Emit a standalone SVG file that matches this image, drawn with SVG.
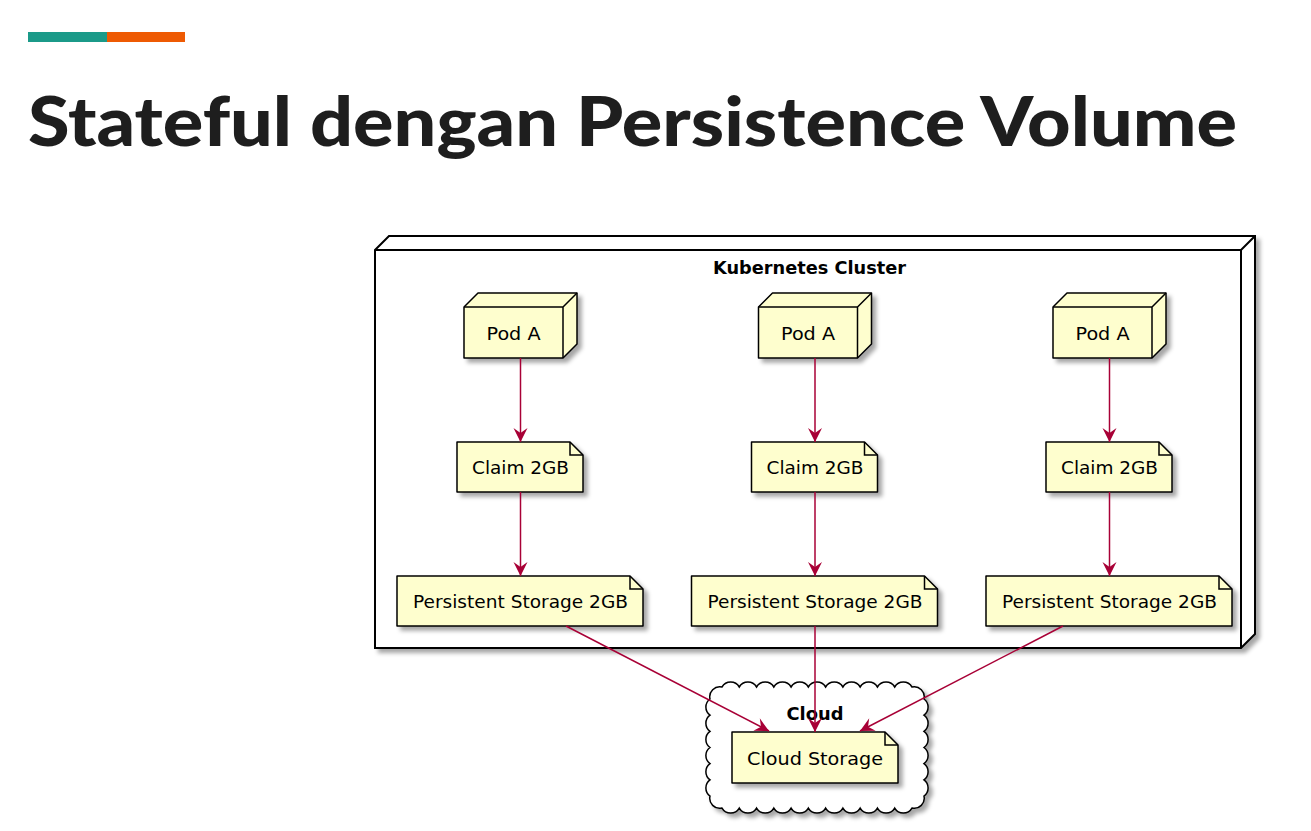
<svg xmlns="http://www.w3.org/2000/svg" width="1311" height="831" viewBox="0 0 1311 831">
<style>
.lbl{font-family:"DejaVu Sans",sans-serif;font-size:18px;fill:#000;text-anchor:middle}
.bold{font-family:"DejaVu Sans",sans-serif;font-size:17px;font-weight:bold;fill:#000;text-anchor:middle}
.node{fill:#FEFECE;stroke:#000;stroke-width:1.5;stroke-linejoin:round}
.edge{stroke:#A80036;stroke-width:1.5;fill:none}
</style>
<defs>
<filter id="sh" x="-10%" y="-10%" width="130%" height="140%">
<feDropShadow dx="4" dy="4" stdDeviation="2" flood-color="#000" flood-opacity="0.35"/>
</filter>
<marker id="ah" viewBox="-15 -8 16 16" refX="0" refY="0" markerWidth="16" markerHeight="16" markerUnits="userSpaceOnUse" orient="auto">
<path d="M0,0 L-14,-7 L-9,0 L-14,7 Z" fill="#A80036"/>
</marker>
</defs>
<rect width="1311" height="831" fill="#fff"/>
<g id="header">
<rect x="28" y="32" width="79" height="10" fill="#1B9A89"/>
<rect x="107" y="32" width="78" height="10" fill="#EE5A03"/>
<text x="28" y="146" font-family="Lato, 'Open Sans', sans-serif" font-weight="900" font-size="68" fill="#1E1E1E" textLength="1209" lengthAdjust="spacingAndGlyphs">Stateful dengan Persistence Volume</text>
</g>
<g id="cluster">
<g filter="url(#sh)">
<path d="M375,250 L389,236 L1255,236 L1255,634 L1241,648 L375,648 Z" fill="#fff" stroke="#000" stroke-width="2"/>
</g>
<path d="M375,250 L1241,250 L1255,236 M1241,250 L1241,648" fill="none" stroke="#000" stroke-width="2"/>
<text class="bold" x="809.5" y="274" textLength="193" lengthAdjust="spacingAndGlyphs">Kubernetes Cluster</text>
</g>
<g id="cloud">
<path filter="url(#sh)" fill="#fff" stroke="#000" stroke-width="1.5" d="M722,687 a10,10 0 0,1 17.27,0 a10,10 0 0,1 17.27,0 a10,10 0 0,1 17.27,0 a10,10 0 0,1 17.27,0 a10,10 0 0,1 17.27,0 a10,10 0 0,1 17.27,0 a10,10 0 0,1 17.27,0 a10,10 0 0,1 17.27,0 a10,10 0 0,1 17.27,0 a10,10 0 0,1 17.27,0 a10,10 0 0,1 17.27,0 a10,10 0 0,1 12,12 a10,10 0 0,1 0,16.17 a10,10 0 0,1 0,16.17 a10,10 0 0,1 0,16.17 a10,10 0 0,1 0,16.17 a10,10 0 0,1 0,16.17 a10,10 0 0,1 0,16.17 a10,10 0 0,1 -12,12 a10,10 0 0,1 -17.27,0 a10,10 0 0,1 -17.27,0 a10,10 0 0,1 -17.27,0 a10,10 0 0,1 -17.27,0 a10,10 0 0,1 -17.27,0 a10,10 0 0,1 -17.27,0 a10,10 0 0,1 -17.27,0 a10,10 0 0,1 -17.27,0 a10,10 0 0,1 -17.27,0 a10,10 0 0,1 -17.27,0 a10,10 0 0,1 -17.27,0 a10,10 0 0,1 -12,-12 a10,10 0 0,1 0,-16.17 a10,10 0 0,1 0,-16.17 a10,10 0 0,1 0,-16.17 a10,10 0 0,1 0,-16.17 a10,10 0 0,1 0,-16.17 a10,10 0 0,1 0,-16.17 a10,10 0 0,1 12,-12 Z"/>
<text class="bold" x="815" y="720" textLength="57" lengthAdjust="spacingAndGlyphs">Cloud</text>
</g>
<g id="pod1">
<path class="node" filter="url(#sh)" d="M464,307 L478,293 L577,293 L577,344 L563,358 L464,358 Z"/>
<path d="M464,307 L563,307 L577,293 M563,307 L563,358" fill="none" stroke="#000" stroke-width="1.5"/>
<text class="lbl" x="513.5" y="340" textLength="54" lengthAdjust="spacingAndGlyphs">Pod A</text>
</g>
<g id="pod2">
<path class="node" filter="url(#sh)" d="M758.5,307 L772.5,293 L871.5,293 L871.5,344 L857.5,358 L758.5,358 Z"/>
<path d="M758.5,307 L857.5,307 L871.5,293 M857.5,307 L857.5,358" fill="none" stroke="#000" stroke-width="1.5"/>
<text class="lbl" x="808" y="340" textLength="54" lengthAdjust="spacingAndGlyphs">Pod A</text>
</g>
<g id="pod3">
<path class="node" filter="url(#sh)" d="M1053,307 L1067,293 L1166,293 L1166,344 L1152,358 L1053,358 Z"/>
<path d="M1053,307 L1152,307 L1166,293 M1152,307 L1152,358" fill="none" stroke="#000" stroke-width="1.5"/>
<text class="lbl" x="1102.5" y="340" textLength="54" lengthAdjust="spacingAndGlyphs">Pod A</text>
</g>
<g id="claim1">
<path class="node" filter="url(#sh)" d="M457,442 L570,442 L583,455 L583,492 L457,492 Z"/>
<path d="M570,442 L570,455 L583,455" fill="none" stroke="#000" stroke-width="1.5"/>
<text class="lbl" x="520.5" y="474" textLength="97" lengthAdjust="spacingAndGlyphs">Claim 2GB</text>
</g>
<g id="claim2">
<path class="node" filter="url(#sh)" d="M751.5,442 L864.5,442 L877.5,455 L877.5,492 L751.5,492 Z"/>
<path d="M864.5,442 L864.5,455 L877.5,455" fill="none" stroke="#000" stroke-width="1.5"/>
<text class="lbl" x="815" y="474" textLength="97" lengthAdjust="spacingAndGlyphs">Claim 2GB</text>
</g>
<g id="claim3">
<path class="node" filter="url(#sh)" d="M1046,442 L1159,442 L1172,455 L1172,492 L1046,492 Z"/>
<path d="M1159,442 L1159,455 L1172,455" fill="none" stroke="#000" stroke-width="1.5"/>
<text class="lbl" x="1109.5" y="474" textLength="97" lengthAdjust="spacingAndGlyphs">Claim 2GB</text>
</g>
<g id="ps1">
<path class="node" filter="url(#sh)" d="M397,576 L630,576 L643,589 L643,626 L397,626 Z"/>
<path d="M630,576 L630,589 L643,589" fill="none" stroke="#000" stroke-width="1.5"/>
<text class="lbl" x="520.5" y="608" textLength="215" lengthAdjust="spacingAndGlyphs">Persistent Storage 2GB</text>
</g>
<g id="ps2">
<path class="node" filter="url(#sh)" d="M691.5,576 L924.5,576 L937.5,589 L937.5,626 L691.5,626 Z"/>
<path d="M924.5,576 L924.5,589 L937.5,589" fill="none" stroke="#000" stroke-width="1.5"/>
<text class="lbl" x="815" y="608" textLength="215" lengthAdjust="spacingAndGlyphs">Persistent Storage 2GB</text>
</g>
<g id="ps3">
<path class="node" filter="url(#sh)" d="M986,576 L1219,576 L1232,589 L1232,626 L986,626 Z"/>
<path d="M1219,576 L1219,589 L1232,589" fill="none" stroke="#000" stroke-width="1.5"/>
<text class="lbl" x="1109.5" y="608" textLength="215" lengthAdjust="spacingAndGlyphs">Persistent Storage 2GB</text>
</g>
<g id="cloudstorage">
<path class="node" filter="url(#sh)" d="M732,732 L885,732 L898,745 L898,783 L732,783 Z"/>
<path d="M885,732 L885,745 L898,745" fill="none" stroke="#000" stroke-width="1.5"/>
<text class="lbl" x="815" y="765" textLength="136" lengthAdjust="spacingAndGlyphs">Cloud Storage</text>
</g>
<g id="connectors">
<line class="edge" x1="520.5" y1="358" x2="520.5" y2="442" marker-end="url(#ah)"/>
<line class="edge" x1="815" y1="358" x2="815" y2="442" marker-end="url(#ah)"/>
<line class="edge" x1="1109.5" y1="358" x2="1109.5" y2="442" marker-end="url(#ah)"/>
<line class="edge" x1="520.5" y1="492" x2="520.5" y2="576" marker-end="url(#ah)"/>
<line class="edge" x1="815" y1="492" x2="815" y2="576" marker-end="url(#ah)"/>
<line class="edge" x1="1109.5" y1="492" x2="1109.5" y2="576" marker-end="url(#ah)"/>
<line class="edge" x1="566" y1="626" x2="769" y2="731" marker-end="url(#ah)"/>
<line class="edge" x1="815" y1="626" x2="815" y2="732" marker-end="url(#ah)"/>
<line class="edge" x1="1063" y1="626" x2="860" y2="731" marker-end="url(#ah)"/>
</g>
</svg>
